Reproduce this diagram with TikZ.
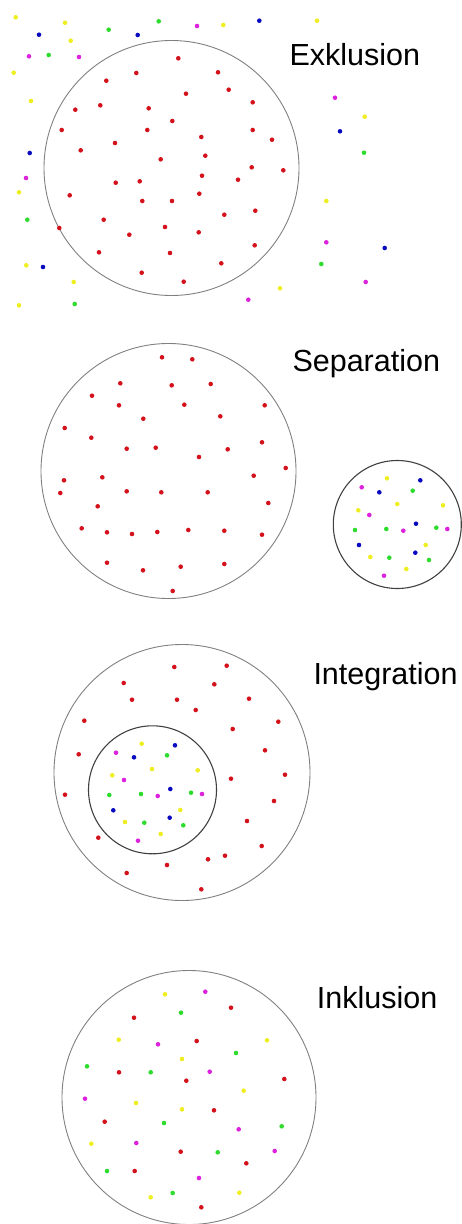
\documentclass[tikz,border=0pt]{standalone}
\usepackage{fontspec}
\setmainfont{Liberation Sans}
\definecolor{dotred}{HTML}{D4121C}
\definecolor{dotyellow}{HTML}{EEEE22}
\definecolor{dotgreen}{HTML}{2EDC2E}
\definecolor{dotblue}{HTML}{0A0AC0}
\definecolor{dotmagenta}{HTML}{DC22DC}
\tikzset{
  group/.style={draw=gray, line width=0.9pt},
  subgroup/.style={draw=black!75, line width=1.1pt},
  title/.style={anchor=base west, inner sep=0pt, font=\fontsize{30.5}{36}\selectfont}
}
\begin{document}
\begin{tikzpicture}[x=1pt, y=-1pt]
        \useasboundingbox (0,0) rectangle (462,1224);

        % Exklusion
        \draw[group] (171.5,168) circle (127.5pt);
        \node[title] (exkl) at (289.3,65) {Exklusion};
        \foreach \p in {(178.3,58.3),(136.3,73),(218,72.3),(106.3,80.7),(228.7,89.7),(186,93.7),(100.3,105.3),(75.3,109.7),(148.7,108.3),(172.3,121),(61.7,130),(147.3,130),(201.3,137),(115,143),(80.7,150.3),(205.3,155.7),(160.7,159.3),(252.7,102.3),(252.7,130),(272,139.7),(202,175.7),(115.7,182.7),(139.7,181.3),(69.7,195.3),(142.3,201),(172,201),(199.3,193.7),(224.3,214.7),(103.7,219.7),(59.3,228),(165,227),(129.3,234.7),(198.7,232.3),(99,252.3),(170,253),(221.3,263.3),(141.7,272.7),(183.7,281.7),(251.7,167.3),(283.3,170.3),(238,179.7),(255.3,210.7),(254.7,245.3)}
          \fill[dotred] \p circle (2.3pt);
        \foreach \p in {(15.7,17.3),(65,22.7),(223.3,25),(70.7,40.7),(13.7,72.7),(31,101),(317,20.7),(364.7,116.7),(19,192.3),(26.3,265.3),(73.7,282),(19,305.3),(326.3,201),(280,288.3)}
          \fill[dotyellow] \p circle (2.3pt);
        \foreach \p in {(108.7,29.7),(158.7,21.3),(48.7,55),(364,152.7),(27.3,219.7),(74.7,304),(321.3,264)}
          \fill[dotgreen] \p circle (2.3pt);
        \foreach \p in {(39,34.7),(137.7,35),(29.7,153),(259.3,20.7),(340,131.3),(43,267),(384.7,248)}
          \fill[dotblue] \p circle (2.3pt);
        \foreach \p in {(197,26),(29,56.3),(79,57),(335,97.7),(26,178),(326.3,242.3),(365.7,282),(248.3,299.7)}
          \fill[dotmagenta] \p circle (2.3pt);

        % Separation
        \draw[group] (168.5,471) circle (127.5pt);
        \draw[subgroup] (397.3,524.5) circle (64pt);
        \node[title] (sepa) at (292.3,371.7) {Separation};
        \foreach \p in {(162,357.3),(192.3,359.3),(120.3,383.3),(171.7,385.3),(210.7,384),(92,395.7),(119,405.3),(184.3,404.7),(264.7,405.3),(143.3,418.7),(220.3,416.3),(64.7,428),(91.3,437.7),(126.7,448.7),(155.7,447.7),(227.7,449.3),(262,442.3),(199,457),(285.7,468),(253.7,475.7),(64,480.3),(102.3,477.3),(60.3,493),(126.7,491.3),(161.3,492.3),(207.7,492.3),(268.3,503),(97.7,506.3),(81.7,528.3),(107,532.3),(132,534),(157.3,532),(188.3,530),(224.3,530.7),(262,534.7),(107,562.7),(143,570.3),(180.7,566.7),(224.3,564),(172.7,591)}
          \fill[dotred] \p circle (2.3pt);
        \foreach \p in {(387,478.3),(397.3,504),(443,505.3),(358.3,510.3),(425.7,545),(370.3,557),(406.3,569)}
          \fill[dotyellow] \p circle (2.3pt);
        \foreach \p in {(412.7,490.7),(355,530),(386.3,529),(436.3,527.7),(389.3,557.7),(429,560)}
          \fill[dotgreen] \p circle (2.3pt);
        \foreach \p in {(420.3,480.3),(379.3,492.3),(416,523.7),(359,545),(415.3,552.7)}
          \fill[dotblue] \p circle (2.3pt);
        \foreach \p in {(361.7,487.3),(369.3,515),(403.3,530.7),(447.3,529),(384,575.7)}
          \fill[dotmagenta] \p circle (2.3pt);

        % Integration
        \draw[group] (182,772.5) circle (128pt);
        \draw[subgroup] (152.5,789.8) circle (64pt);
        \node[title] (inte) at (313.3,684) {Integration};
        \foreach \p in {(174.3,667),(226.7,665.7),(123.7,683),(214.3,684.3),(132,699.7),(177,699.7),(249,698.7),(195.7,710),(84.3,720.7),(278.3,721.7),(232.7,729),(78.7,754.3),(265,750.3),(285,774.7),(231,778.7),(65,794.7),(274,801),(247,821),(98.3,837.7),(261.7,846),(208,859.3),(225,855.7),(167,865),(126.7,873),(201.3,889.3)}
          \fill[dotred] \p circle (2.3pt);
        \foreach \p in {(141.7,743.7),(152,769),(197.7,770.3),(112.3,775.3),(180.3,810),(125,822),(160.7,834)}
          \fill[dotyellow] \p circle (2.3pt);
        \foreach \p in {(167,755.3),(109.3,795),(141,794),(191,792.7),(144.3,822.7),(183.3,825.3)}
          \fill[dotgreen] \p circle (2.3pt);
        \foreach \p in {(175,745.3),(134,757.3),(170.3,789),(113.3,810.3),(169.7,817.7)}
          \fill[dotblue] \p circle (2.3pt);
        \foreach \p in {(116,752.7),(124,780),(157.7,796),(202,794),(138,840.7)}
          \fill[dotmagenta] \p circle (2.3pt);

        % Inklusion
        \draw[group] (189,1097.5) circle (127pt);
        \node[title] (inkl) at (316.7,1008.3) {Inklusion};
        \foreach \p in {(231,1007.7),(134,1017.7),(196.7,1041),(119,1072.3),(186.3,1080.7),(284.3,1079),(214,1110.3),(104.7,1121.7),(180.7,1151.7),(246.3,1163.3),(134.7,1171),(201.3,1207.3)}
          \fill[dotred] \p circle (2.3pt);
        \foreach \p in {(165,994.3),(118.7,1039.7),(267,1040.3),(182,1059),(243.7,1090.7),(136,1103),(182,1109.3),(91.3,1143.7),(150.7,1197.3),(239.3,1192.7)}
          \fill[dotyellow] \p circle (2.3pt);
        \foreach \p in {(181,1012.7),(236,1053),(87,1066.3),(150.7,1072.3),(164,1123),(281.7,1126.3),(217.7,1152.3),(107,1171),(172.7,1193)}
          \fill[dotgreen] \p circle (2.3pt);
        \foreach \p in {(205.3,991.7),(158,1044.3),(209.7,1071.7),(85,1098.7),(238.7,1129.3),(136.3,1143),(274.7,1151),(199,1178)}
          \fill[dotmagenta] \p circle (2.3pt);

\end{tikzpicture}
\end{document}
